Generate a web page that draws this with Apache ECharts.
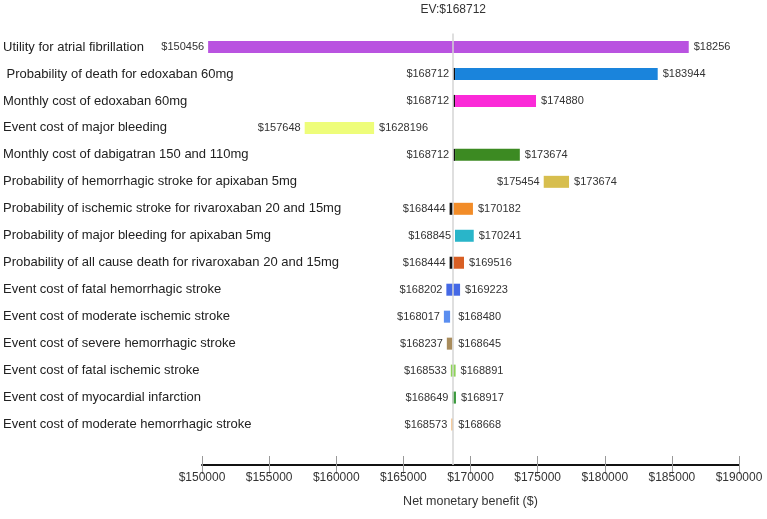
<!DOCTYPE html>
<html>
<head>
<meta charset="utf-8">
<script src="https://cdn.jsdelivr.net/npm/echarts@6/dist/echarts.min.js"></script>
<style>html,body{margin:0;padding:0;background:#fff;}#chart{width:767px;height:519px;}</style>
</head>
<body>
<div id="chart"></div>
<script>
const categories = [
  'Utility for atrial fibrillation',
  ' Probability of death for edoxaban 60mg',
  'Monthly cost of edoxaban 60mg',
  'Event cost of major bleeding',
  'Monthly cost of dabigatran 150 and 110mg',
  'Probability of hemorrhagic stroke for apixaban 5mg',
  'Probability of ischemic stroke for rivaroxaban 20 and 15mg',
  'Probability of major bleeding for apixaban 5mg',
  'Probability of all cause death for rivaroxaban 20 and 15mg',
  'Event cost of fatal hemorrhagic stroke',
  'Event cost of moderate ischemic stroke',
  'Event cost of severe hemorrhagic stroke',
  'Event cost of fatal ischemic stroke',
  'Event cost of myocardial infarction',
  'Event cost of moderate hemorrhagic stroke'
];
const lowValues  = [150456, 168712, 168712, 157648, 168712, 175454, 168444, 168845, 168444, 168202, 168017, 168237, 168533, 168649, 168573];
const highValues = [186256, 183944, 174880, 162820, 173674, 177340, 170182, 170241, 169516, 169223, 168480, 168645, 168891, 168917, 168668];
// end of the black segment at the low end of a bar (-1 = none)
const blackEnd   = [-1, 168850, 168850, -1, 168850, -1, 168712, -1, 168712, -1, -1, -1, -1, -1, -1];
const lowLabels  = ['$150456', '$168712', '$168712', '$157648', '$168712', '$175454', '$168444', '$168845', '$168444', '$168202', '$168017', '$168237', '$168533', '$168649', '$168573'];
const highLabels = ['$18256', '$183944', '$174880', '$1628196', '$173674', '$173674', '$170182', '$170241', '$169516', '$169223', '$168480', '$168645', '$168891', '$168917', '$168668'];
const barColors  = ['#b953e0', '#1a84dc', '#fb2ad8', '#eefd7a', '#3c8a22', '#d7be4e', '#f28c28', '#29b5c9', '#d85f24', '#4569e6', '#5a8ef0', '#a98c5c', '#8ed35a', '#3a9a3c', '#f3b46c'];
const expectedValue = 168712;
const xMin = 150000, xMax = 190000, xStep = 5000;

const FONT = 'Liberation Sans, Arial, sans-serif';
const data = categories.map((c, i) => [i, lowValues[i], highValues[i], blackEnd[i]]);

const chart = echarts.init(document.getElementById('chart'));
chart.setOption({
  animation: false,
  backgroundColor: '#ffffff',
  grid: { left: 202, right: 28, top: 33.5, bottom: 54, containLabel: false },
  xAxis: [{
    type: 'value', min: xMin, max: xMax, interval: xStep,
    position: 'bottom',
    axisLine: { show: true, lineStyle: { color: '#111', width: 2 } },
    axisTick: { show: true, length: 9, lineStyle: { color: '#999', width: 1 } },
    splitLine: { show: false },
    axisLabel: { formatter: v => '$' + v, fontSize: 12, color: '#333', fontFamily: FONT, margin: 7 },
    name: 'Net monetary benefit ($)', nameLocation: 'middle', nameGap: 30,
    nameTextStyle: { fontSize: 12.5, color: '#333', fontFamily: FONT }
  }, {
    type: 'value', min: xMin, max: xMax, interval: xStep,
    position: 'bottom',
    axisLine: { show: false },
    axisTick: { show: true, inside: true, length: 9, lineStyle: { color: '#999', width: 1 } },
    axisLabel: { show: false }, splitLine: { show: false }
  }],
  yAxis: {
    type: 'category', inverse: true,
    data: categories.concat(['']),
    axisLine: { show: false }, axisTick: { show: false }, splitLine: { show: false },
    axisLabel: { align: 'left', margin: 199, fontSize: 13, color: '#222', fontFamily: FONT }
  },
  series: [{
    type: 'custom',
    xAxisIndex: 0,
    encode: { x: [1, 2, 3], y: 0 },
    data: data,
    renderItem: function (params, api) {
      const i = api.value(0);
      const low = api.value(1), high = api.value(2), bEnd = api.value(3);
      const p0 = api.coord([low, i]);
      const p1 = api.coord([high, i]);
      const y = p0[1];
      const h = 12;
      const color = barColors[i];
      const children = [];
      let startX = p0[0];
      if (bEnd > 0) {
        const pb = api.coord([bEnd, i]);
        children.push({ type: 'rect', shape: { x: p0[0], y: y - h / 2, width: Math.max(pb[0] - p0[0], 1.5), height: h }, style: { fill: '#111' } });
        startX = pb[0];
      }
      children.push({ type: 'rect', shape: { x: startX, y: y - h / 2, width: Math.max(p1[0] - startX, 1.5), height: h }, style: { fill: color } });
      const evX = api.coord([expectedValue, i])[0];
      const nearEV = high < expectedValue && expectedValue - high < 1000;
      const hx = nearEV ? evX : p1[0];
      children.push({ type: 'text', style: { x: p0[0] - 4, y: y, text: lowLabels[i], textAlign: 'right', textVerticalAlign: 'middle', fontSize: 11, fill: '#333', fontFamily: FONT } });
      children.push({ type: 'text', style: { x: hx + 5, y: y, text: highLabels[i], textAlign: 'left', textVerticalAlign: 'middle', fontSize: 11, fill: '#333', fontFamily: FONT } });
      return { type: 'group', children: children };
    },
    markLine: {
      silent: true, symbol: 'none', z: 10,
      lineStyle: { color: '#d4d4d4', width: 1.5, type: 'solid' },
      label: { show: true, position: 'start', formatter: 'EV:$' + expectedValue, fontSize: 12, color: '#333', fontFamily: FONT, distance: 18 },
      data: [{ xAxis: expectedValue }]
    }
  }]
});
</script>
</body>
</html>
